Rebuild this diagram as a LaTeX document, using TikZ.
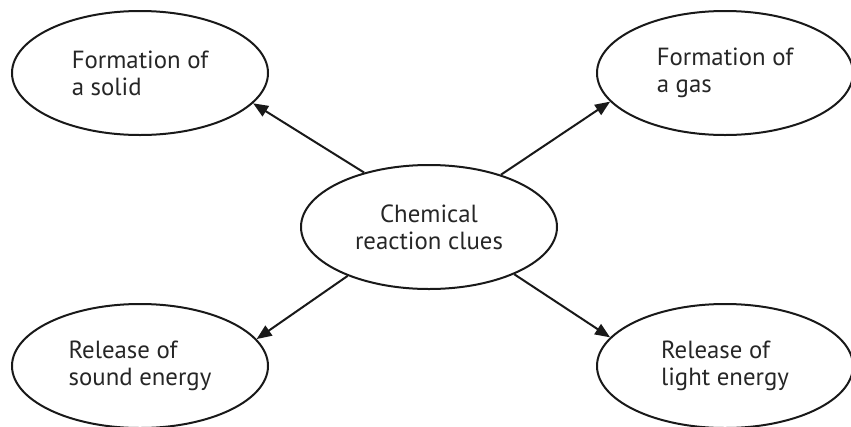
\documentclass[tikz,border=0pt]{standalone}
\usepackage{fontspec}
\setmainfont{PT Sans}
\usetikzlibrary{shapes.geometric,arrows.meta}
\begin{document}
\begin{tikzpicture}[x=1pt,y=-1pt,
  bubble/.style={draw=black!90, line width=2pt, ellipse, minimum width=256pt, minimum height=124pt, inner sep=0pt, align=left, font=\fontsize{24.8}{27}\selectfont, text=black!85},
  hub/.style={bubble, align=center},
  link/.style={draw=black!90, line width=2pt, -{Triangle[length=15pt,width=12pt]}}]
\useasboundingbox (0,0) rectangle (851,426);
\node[bubble] (solid) at (140,73) {Formation of\\a solid};
\node[bubble] (gas) at (725,73) {Formation of\\a gas};
\node[bubble] (sound) at (140,366) {Release of\\sound energy};
\node[bubble] (light) at (725,366) {Release of\\light energy};
\node[hub] (c) at (429,227) {Chemical\\reaction clues};
\draw[link] (c.140.6) -- (solid.-15);
\draw[link] (c.36.4) -- (gas.194.5);
\draw[link] (c.211.4) -- (sound.13.2);
\draw[link] (c.331.6) -- (light.166.4);
\end{tikzpicture}
\end{document}
